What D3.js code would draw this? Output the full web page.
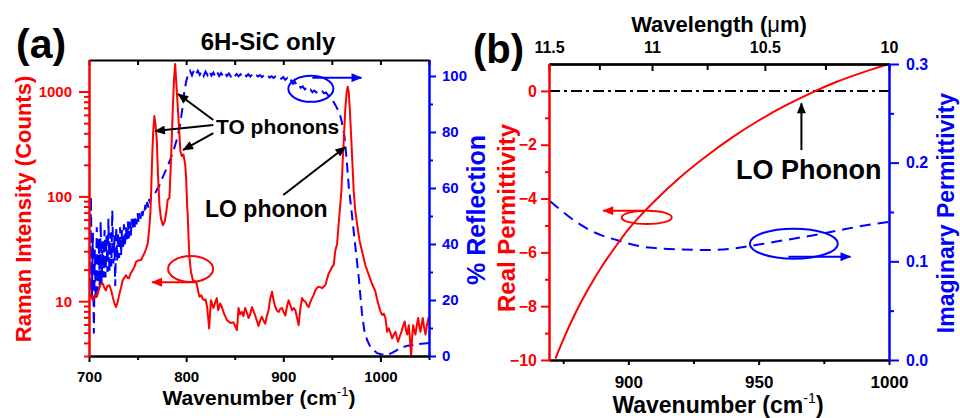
<!DOCTYPE html>
<html>
<head>
<meta charset="utf-8">
<script src="https://cdn.jsdelivr.net/npm/d3@7"></script>
<style>
  body { margin: 0; background: #fff; }
  svg { display: block; font-family: "Liberation Sans", Arial, sans-serif; font-weight: bold; }
</style>
</head>
<body>
<svg id="chart" width="960" height="418"></svg>
<script>
// ---- panel (a): Raman spectrum (counts, log) and IR reflection (%)
const ramanWn = [700, 702, 704, 706, 708, 710, 712, 714, 716, 717.5, 719, 721, 723, 724.4, 726, 727.8, 729.5, 731, 733, 734.7,
  736.5, 738, 740, 741, 743, 745, 747, 748.5, 751, 753.6, 755.5, 757, 759, 760.5, 762.2, 763.2, 764, 765, 766, 767.3,
  768.5, 769.8, 771, 772.5, 774, 776, 778, 779.4, 781, 782.8, 784.5, 786.3, 787.5, 788.7, 790.4, 792.5, 794.1, 795.6, 797.2, 799,
  800, 801, 801.7, 802.5, 803.4, 805, 806.9, 808.5, 810.3, 812, 813.7, 815.5, 817, 818.9, 820, 821.6, 823.7, 825.5, 828.1, 830,
  831.6, 833, 835, 836.8, 839, 842, 845.4, 848.5, 850.5, 852.3, 853.9, 855.5, 857.4, 859, 860.8, 862.5, 864.2, 866, 867.7, 869.5,
  871.1, 872.8, 874.5, 876.3, 878, 879.7, 881.4, 883, 884.8, 886.5, 888.4, 890, 891.8, 893.5, 895.2, 897, 898.7, 900.4, 902.1, 903.8,
  905.5, 907.2, 909, 910.7, 912.4, 914.1, 915.8, 917.5, 919.3, 921, 922.7, 924.4, 926.1, 927.8, 929.6, 931.3, 933, 934.7, 936.4, 938.1,
  939.9, 941.6, 943.3, 945, 946.7, 948.4, 950.2, 951.9, 953.6, 955.3, 957, 958.5, 959.8, 961, 962.2, 963.9, 965.2, 966.3, 967.4, 968.4,
  970.1, 972.5, 974, 976, 978.5, 981.1, 984.5, 988, 991.5, 994.8, 996.5, 998.2, 1000, 1001.8, 1003.5, 1005.2, 1006.9, 1008.6, 1010.3, 1012,
  1013.8, 1015.5, 1016.9, 1018.2, 1019.9, 1021.6, 1023.3, 1025, 1026.3, 1027.5, 1029.2, 1030.5, 1031.6, 1032.6, 1033.7, 1035, 1036, 1037.5, 1038.8, 1040,
  1041.2, 1042.4, 1043.6, 1045, 1046.4, 1048, 1049.8];
const ramanCounts = [11.5, 11.4, 10.2, 11.5, 11, 12.7, 14.5, 14.8, 13.3, 12.7, 14, 14.2, 12.5, 11, 9.6, 8.8, 9.8, 11.4, 13.5, 15.9,
  16.8, 17.7, 16.6, 16.5, 18.5, 19.8, 21.5, 23.8, 24.5, 24.7, 27, 28.6, 32, 35.7, 51.4, 70, 112, 233, 400, 585,
  480, 339, 162, 83, 62, 53, 58, 69, 92.6, 97, 233, 700, 1300, 1830, 1010, 484, 270, 242, 251, 202,
  150, 83, 64, 40, 26, 19, 15.9, 15.6, 15.3, 13, 11, 11.4, 10.5, 10.2, 10.4, 8.8, 5.5, 10.2, 8.6, 9.8,
  10.7, 8.2, 9.5, 8.8, 7.6, 6.6, 6.2, 6.3, 5.8, 5.3, 8.6, 7.5, 7.9, 7.2, 8.6, 7.8, 6.9, 7.5, 8.8, 8.0,
  7.3, 6.5, 5.8, 6.6, 7.1, 6.5, 6.1, 7.2, 8.2, 10.5, 12.3, 10.2, 8.8, 8.1, 7.9, 8.5, 8.6, 7.8, 7.3, 8.9,
  10.2, 9.2, 8.2, 8.6, 8.2, 7.0, 5.9, 8.4, 10.7, 10.1, 9.9, 9.2, 8.8, 9.8, 10.7, 11.5, 12.7, 13.4, 13.7, 13.6,
  13.3, 13.8, 14.2, 16.2, 18.4, 19.5, 21.3, 22.2, 30.7, 34.6, 54, 80, 112, 200, 338, 700, 980, 1110, 980, 700,
  338, 112, 75, 54, 38, 29.9, 22, 17.8, 14.5, 12.4, 10.5, 9.2, 8.0, 7.4, 7.6, 6.9, 5.1, 5.5, 5.0, 4.4,
  4.8, 5.1, 4.5, 4.1, 4.6, 5.1, 5.8, 6.4, 5.3, 4.8, 5.9, 4.2, 3.0, 4.5, 5.9, 5.2, 4.8, 5.9, 6.9, 5.8,
  5.1, 6.0, 6.9, 5.6, 4.8, 6.0, 7.1];

const reflWn = [700, 701, 702, 703, 704, 705, 706, 707, 708, 709, 710, 711, 712, 713, 714, 715, 716, 717, 718, 719,
  720, 721, 722, 723, 724, 725, 726, 727, 728, 729, 730, 731, 732, 733, 734, 735, 736, 737, 738, 739,
  740, 741, 742, 743, 744, 745, 746, 747, 748, 749, 750, 751, 752, 753, 754, 755, 756, 757, 758, 759,
  760, 761, 762, 763, 764, 766, 768, 770, 772, 776, 780, 784, 788, 791, 794, 796, 798, 800, 802, 804,
  806, 808, 810, 812, 814, 816, 818, 820, 822, 824, 826, 828, 830, 832, 834, 836, 838, 840, 842, 844,
  846, 848, 850, 852, 854, 856, 858, 860, 862, 864, 866, 868, 870, 872, 874, 876, 878, 880, 882, 884,
  886, 888, 890, 892, 894, 896, 898, 900, 902, 904, 906, 908, 910, 912, 914, 916, 918, 920, 922, 924,
  926, 928, 930, 932, 934, 936, 938, 940, 942, 944, 946, 948, 950, 952, 954, 956, 958, 960, 963, 965,
  967.4, 970.8, 974.2, 977.6, 981, 983.5, 986.3, 990, 996.6, 1001, 1006.9, 1012, 1017, 1022, 1028, 1034, 1040, 1045, 1050];
const reflPct = [56, 23, 57, 21, 44, 8, 38, 20, 46, 23, 42, 25, 48, 26, 41, 28, 45, 28, 43, 30,
  49, 30, 44, 32, 52, 33, 43, 25, 46, 34, 44, 35, 46, 36, 45, 38, 47, 39, 46, 41,
  48, 42, 48, 43, 49, 45, 49, 46, 50, 47, 51, 48, 51, 49, 52, 50, 52, 51, 54, 52,
  55, 53, 56, 55, 57, 57.5, 58, 59.5, 60.5, 64, 67, 70.5, 74.5, 78, 83, 88, 94, 98, 100.5, 101.8,
  100.2, 102.0, 100.6, 101.9, 100.4, 101.7, 100.0, 101.5, 100.3, 101.8, 100.1, 101.2, 99.8, 101.3, 100.0, 101.0, 99.9, 101.1, 100.0, 100.9,
  99.8, 100.8, 99.9, 100.7, 99.9, 100.6, 99.8, 100.7, 99.9, 100.6, 99.8, 100.5, 99.7, 100.4, 99.8, 100.3, 99.6, 100.2, 99.5, 100.1,
  99.4, 99.9, 99.3, 99.8, 99.2, 99.7, 99.0, 99.6, 98.6, 99.2, 97.8, 98.4, 97.2, 97.9, 96.5, 97.0, 95.8, 96.3, 95.2, 95.6,
  94.6, 95.1, 94.2, 94.8, 94.1, 94.6, 94.0, 94.5, 93.8, 94.1, 93.2, 92.6, 91.8, 90.6, 89.4, 88.0, 86.6, 84.0, 78.5, 71,
  60.5, 50, 39, 28.3, 15.2, 9, 5.7, 3, 1, 0.6, 0.4, 1.1, 2.1, 3.0, 3.7, 3.9, 4.3, 4.5, 4.6];

const ramanTicks = [10, 100, 1000];
const ramanMinor = [3, 4, 5, 6, 7, 8, 9, 20, 30, 40, 50, 60, 70, 80, 90, 200, 300, 400, 500, 600, 700, 800, 900];
const reflTicks = [0, 20, 40, 60, 80, 100];
const reflMinor = [10, 30, 50, 70, 90];
const wnTicksA = [700, 800, 900, 1000];
const wnMinorA = [750, 850, 950, 1050];

// ---- panel (b): permittivity of 6H-SiC
const realWn = [872, 875, 880, 885, 890, 895, 900, 905, 910, 920, 930, 940, 950, 960, 970, 980, 990, 1000];
const realEps = [-9.95, -9.25, -8.2, -7.3, -6.5, -5.8, -5.15, -4.6, -4.1, -3.2, -2.42, -1.72, -1.1, -0.56, -0.08, 0.34, 0.69, 1.0];
const imagWn = [870, 875, 880, 885, 890, 895, 900, 905, 910, 920, 930, 940, 950, 960, 970, 980, 990, 1000];
const imagEps = [0.161, 0.150, 0.140, 0.132, 0.126, 0.122, 0.118, 0.115, 0.1135, 0.112, 0.1115, 0.113, 0.117, 0.1215, 0.126, 0.131, 0.136, 0.140];

const realTicks = [-10, -8, -6, -4, -2, 0];
const realMinor = [-9, -7, -5, -3, -1];
const imagTicks = [0, 0.1, 0.2, 0.3];
const imagMinor = [0.05, 0.15, 0.25];
const wnTicksB = [900, 950, 1000];
const wnMinorB = [875, 925, 975];
const wavelengthTicks = [11.5, 11, 10.5, 10];
const wavelengthMinor = [11.25, 10.75, 10.25];

const RED = "#ff0000", BLUE = "#0000ff", BLACK = "#000";
const svg = d3.select("#chart");
svg.append("rect").attr("width", 960).attr("height", 418).attr("fill", "#fff");

const defs = svg.append("defs");
[["k", BLACK], ["r", RED], ["b", BLUE]].forEach(([id, c]) => {
  defs.append("marker")
    .attr("id", "head-" + id)
    .attr("viewBox", "0 0 12 10")
    .attr("refX", 11).attr("refY", 5)
    .attr("markerWidth", 12).attr("markerHeight", 9)
    .attr("markerUnits", "userSpaceOnUse")
    .attr("orient", "auto")
    .append("path").attr("d", "M0,0 L12,5 L0,10 z").attr("fill", c);
});

function axisStyle(g, color, size) {
  g.attr("font-family", null).attr("font-size", size);
  g.select(".domain").attr("stroke", color).attr("stroke-width", 2);
  g.selectAll(".tick line").attr("stroke", color).attr("stroke-width", 2);
  g.selectAll(".tick text").attr("fill", color).attr("font-weight", "bold");
}

function addAxis(axis, tx, ty, color, size) {
  const g = svg.append("g").attr("transform", `translate(${tx},${ty})`).call(axis);
  axisStyle(g, color, size);
  return g;
}

function rotatedLabel(x, y, text, color, size) {
  svg.append("text")
    .attr("transform", `translate(${x},${y}) rotate(-90)`)
    .attr("text-anchor", "middle")
    .attr("font-size", size)
    .attr("fill", color)
    .text(text);
}

function wavenumberTitle(cx, y, size) {
  const t = svg.append("text").attr("x", cx).attr("y", y).attr("text-anchor", "middle").attr("font-size", size);
  t.append("tspan").text("Wavenumber (cm");
  t.append("tspan").attr("font-size", size * 0.62).attr("dy", -size * 0.42).attr("font-weight", "normal").text("-1");
  t.append("tspan").attr("dy", size * 0.42).text(")");
}

function arrow(x1, y1, x2, y2, id, color) {
  svg.append("line")
    .attr("x1", x1).attr("y1", y1).attr("x2", x2).attr("y2", y2)
    .attr("stroke", color).attr("stroke-width", 2)
    .attr("marker-end", `url(#head-${id})`);
}

function ellipse(cx, cy, rx, ry, color) {
  svg.append("ellipse")
    .attr("cx", cx).attr("cy", cy).attr("rx", rx).attr("ry", ry)
    .attr("fill", "none").attr("stroke", color).attr("stroke-width", 2);
}

// ================= panel (a)
const A = { left: 89, right: 429, top: 60, bottom: 356 };
const xA = d3.scaleLinear().domain([700, 1050]).range([A.left, A.right]);
const yRaman = d3.scaleLog().domain([3, 2000]).range([A.bottom, A.top]);
const yRefl = d3.scaleLinear().domain([0, 105.7]).range([A.bottom, A.top]);

defs.append("clipPath").attr("id", "clipA")
  .append("rect").attr("x", A.left).attr("y", A.top).attr("width", A.right - A.left).attr("height", A.bottom - A.top);

const reflLine = d3.line().x((d, i) => xA(reflWn[i])).y(d => yRefl(d));
svg.append("path")
  .attr("clip-path", "url(#clipA)")
  .attr("d", reflLine(reflPct))
  .attr("fill", "none").attr("stroke", BLUE).attr("stroke-width", 2)
  .attr("stroke-dasharray", "10,6");

const ramanLine = d3.line().x((d, i) => xA(ramanWn[i])).y(d => yRaman(d));
svg.append("path")
  .attr("clip-path", "url(#clipA)")
  .attr("d", ramanLine(ramanCounts))
  .attr("fill", "none").attr("stroke", RED).attr("stroke-width", 2)
  .attr("stroke-linejoin", "round");

// axes (a)
addAxis(d3.axisBottom(xA).tickValues(wnTicksA).tickSize(6).tickPadding(9).tickSizeOuter(0).tickFormat(d3.format("d")), 0, A.bottom, BLACK, 15);
addAxis(d3.axisBottom(xA).tickValues(wnMinorA).tickSize(4).tickSizeOuter(0).tickFormat(""), 0, A.bottom, BLACK, 15);
addAxis(d3.axisBottom(xA).tickValues(wnTicksA.concat(wnMinorA)).tickSize(5).tickSizeOuter(0).tickFormat(""), 0, A.top, BLACK, 15);
addAxis(d3.axisLeft(yRaman).tickValues(ramanTicks).tickSize(10).tickPadding(7).tickSizeOuter(0).tickFormat(d3.format("d")), A.left, 0, RED, 15);
addAxis(d3.axisLeft(yRaman).tickValues(ramanMinor).tickSize(5).tickSizeOuter(0).tickFormat(""), A.left, 0, RED, 15);
addAxis(d3.axisRight(yRefl).tickValues(reflTicks).tickSize(7).tickPadding(6).tickSizeOuter(0).tickFormat(d3.format("d")), A.right, 0, BLUE, 15);
addAxis(d3.axisRight(yRefl).tickValues(reflMinor).tickSize(4).tickSizeOuter(0).tickFormat(""), A.right, 0, BLUE, 15);

// labels (a)
svg.append("text").attr("x", 16).attr("y", 58).attr("font-size", 41).text("(a)");
svg.append("text").attr("x", 268).attr("y", 50).attr("text-anchor", "middle").attr("font-size", 24).text("6H-SiC only");
rotatedLabel(31, 209, "Raman Intensity (Counts)", RED, 22);
rotatedLabel(485, 210, "% Reflection", BLUE, 25);
wavenumberTitle(259, 405, 21);

// annotations (a)
svg.append("text").attr("x", 216).attr("y", 134).attr("font-size", 21).text("TO phonons");
arrow(xA(828), yRaman(480), xA(768), yRaman(420), "k", BLACK);
arrow(xA(828), yRaman(535), xA(791.8), yRaman(948), "k", BLACK);
arrow(xA(828), yRaman(402), xA(796.9), yRaman(277), "k", BLACK);
svg.append("text").attr("x", 205).attr("y", 217).attr("font-size", 23).text("LO phonon");
arrow(xA(900), yRaman(103), xA(963.9), yRaman(296), "k", BLACK);
ellipse(xA(928.4), yRefl(95.4), 22.5, 13, BLUE);
arrow(xA(929.9), yRefl(99.4), xA(980.4), yRefl(99.4), "b", BLUE);
ellipse(xA(804.6), yRaman(20.3), 22.5, 13, RED);
arrow(xA(811.3), yRaman(15.2), xA(765), yRaman(15.2), "r", RED);

// ================= panel (b)
const B = { left: 549, right: 889, top: 64, bottom: 360 };
const xB = d3.scaleLinear().domain([10000 / 11.5, 1000]).range([B.left, B.right]);
const yReal = d3.scaleLinear().domain([-10, 1]).range([B.bottom, B.top]);
const yImag = d3.scaleLinear().domain([0, 0.3]).range([B.bottom, B.top]);

defs.append("clipPath").attr("id", "clipB")
  .append("rect").attr("x", B.left).attr("y", B.top).attr("width", B.right - B.left).attr("height", B.bottom - B.top);

svg.append("line")
  .attr("x1", xB.range()[0]).attr("x2", xB.range()[1])
  .attr("y1", yReal(0)).attr("y2", yReal(0))
  .attr("stroke", BLACK).attr("stroke-width", 2)
  .attr("stroke-dasharray", "11,4,3,4");

const imagLine = d3.line().curve(d3.curveMonotoneX).x((d, i) => xB(imagWn[i])).y(d => yImag(d));
svg.append("path")
  .attr("clip-path", "url(#clipB)")
  .attr("d", imagLine(imagEps))
  .attr("fill", "none").attr("stroke", BLUE).attr("stroke-width", 2)
  .attr("stroke-dasharray", "11,7");

const realLine = d3.line().curve(d3.curveMonotoneX).x((d, i) => xB(realWn[i])).y(d => yReal(d));
svg.append("path")
  .attr("clip-path", "url(#clipB)")
  .attr("d", realLine(realEps))
  .attr("fill", "none").attr("stroke", RED).attr("stroke-width", 2);

// axes (b)
addAxis(d3.axisBottom(xB).tickValues(wnTicksB).tickSize(5).tickPadding(11).tickSizeOuter(0).tickFormat(d3.format("d")), 0, B.bottom, BLACK, 17);
addAxis(d3.axisBottom(xB).tickValues(wnMinorB).tickSize(4).tickSizeOuter(0).tickFormat(""), 0, B.bottom, BLACK, 17);
addAxis(d3.axisTop(xB).tickValues(wavelengthTicks.map(l => 10000 / l)).tickSize(0).tickPadding(11).tickSizeOuter(0)
  .tickFormat(v => String(+(10000 / v).toFixed(2))), 0, B.top, BLACK, 16);
addAxis(d3.axisBottom(xB).tickValues(wavelengthTicks.map(l => 10000 / l)).tickSize(7).tickSizeOuter(0).tickFormat(""), 0, B.top, BLACK, 16);
addAxis(d3.axisBottom(xB).tickValues(wavelengthMinor.map(l => 10000 / l)).tickSize(6).tickSizeOuter(0).tickFormat(""), 0, B.top, BLACK, 16);
addAxis(d3.axisLeft(yReal).tickValues(realTicks).tickSize(8).tickPadding(4).tickSizeOuter(0).tickFormat(d => d < 0 ? "\u2212" + Math.abs(d) : d), B.left, 0, RED, 16);
addAxis(d3.axisLeft(yReal).tickValues(realMinor).tickSize(4).tickSizeOuter(0).tickFormat(""), B.left, 0, RED, 16);
addAxis(d3.axisRight(yImag).tickValues(imagTicks).tickSize(10).tickPadding(7).tickSizeOuter(0).tickFormat(d3.format(".1f")), B.right, 0, BLUE, 16);
addAxis(d3.axisRight(yImag).tickValues(imagMinor).tickSize(5).tickSizeOuter(0).tickFormat(""), B.right, 0, BLUE, 16);

// labels (b)
svg.append("text").attr("x", 473).attr("y", 63).attr("font-size", 40).text("(b)");
const wl = svg.append("text").attr("x", 719).attr("y", 32).attr("text-anchor", "middle").attr("font-size", 22);
wl.append("tspan").text("Wavelength (");
wl.append("tspan").attr("font-weight", "normal").text("\u03bc");
wl.append("tspan").text("m)");
rotatedLabel(515, 218, "Real Permittivity", RED, 24);
rotatedLabel(954, 213, "Imaginary Permittivity", BLUE, 23);
wavenumberTitle(718, 413, 23);

// annotations (b)
svg.append("text").attr("x", 736).attr("y", 179).attr("font-size", 27).text("LO Phonon");
arrow(xB(966.4), yReal(-2.2), xB(966.4), yReal(-0.46), "k", BLACK);
ellipse(xB(907.05), yReal(-4.7), 25, 6.7, RED);
arrow(xB(906.4), yReal(-4.45), xB(890.4), yReal(-4.45), "r", RED);
ellipse(xB(963.5), yImag(0.1179), 44, 15, BLUE);
arrow(xB(961.4), yImag(0.1047), xB(985.2), yImag(0.1047), "b", BLUE);
</script>
</body>
</html>
